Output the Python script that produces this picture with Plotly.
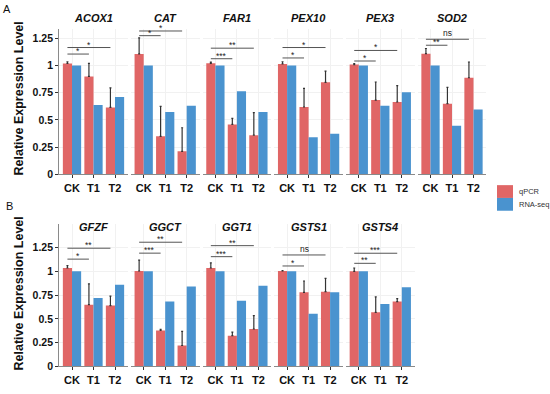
import plotly.graph_objects as go

W, H = 550, 394
FONT = "Liberation Sans"
RED = "#E06666"
BLUE = "#4A93CF"

categories = ["CK", "T1", "T2"]
y_ticks = [0, 0.25, 0.5, 0.75, 1, 1.25]
y_tick_labels = ["0", "0.25", "0.5", "0.75", "1", "1.25"]

# ---- Panel A ----
genes_a = ["ACOX1", "CAT", "FAR1", "PEX10", "PEX3", "SOD2"]
qpcr_a = [[1.02, 0.90, 0.615], [1.107, 0.349, 0.211], [1.021, 0.459, 0.36],
          [1.015, 0.619, 0.846], [1.009, 0.683, 0.665], [1.109, 0.65, 0.888]]
qpcr_err_a = [[0.015, 0.12, 0.18], [0.147, 0.275, 0.217], [0.01, 0.055, 0.208],
              [0.02, 0.171, 0.103], [0.01, 0.166, 0.151], [0.048, 0.15, 0.145]]
rnaseq_a = [[1.0, 0.637, 0.71], [1.0, 0.572, 0.63], [1.0, 0.764, 0.574],
            [1.0, 0.341, 0.372], [1.0, 0.631, 0.755], [1.0, 0.447, 0.595]]
sig_labels_a = [["*", "*"], ["*", "*"], ["***", "**"], ["*", "*"], ["*", "*"], ["**", "ns"]]
sig_heights_a = [[1.106, 1.166], [1.275, 1.318], [1.063, 1.16], [1.07, 1.166],
                 [1.042, 1.139], [1.187, 1.242]]

# ---- Panel B ----
genes_b = ["GFZF", "GGCT", "GGT1", "GSTS1", "GSTS4"]
qpcr_b = [[1.035, 0.649, 0.639], [1.003, 0.378, 0.219], [1.035, 0.323, 0.393],
          [1.003, 0.779, 0.786], [1.0, 0.568, 0.681]]
qpcr_err_b = [[0.024, 0.219, 0.10], [0.115, 0.011, 0.149], [0.053, 0.038, 0.14],
              [0.004, 0.119, 0.14], [0.035, 0.162, 0.031]]
rnaseq_b = [[1.0, 0.719, 0.858], [1.0, 0.681, 0.84], [1.0, 0.691, 0.849],
            [1.0, 0.554, 0.779], [1.0, 0.656, 0.832]]
sig_labels_b = [["*", "**"], ["***", "**"], ["***", "**"], ["*", "ns"], ["**", "***"]]
sig_heights_b = [[1.128, 1.243], [1.191, 1.306], [1.154, 1.27], [1.056, 1.172], [1.084, 1.19]]

series_names = ["qPCR", "RNA-seq"]

fig = go.Figure()
layout = {}
annotations = []
shapes = []

BARGAP = 0.15
HALF = (1 - BARGAP) / 4  # offset of each bar centre from category centre

def px_x(p):
    return p / W

def px_y(p):
    return 1 - p / H

rows = [
    dict(genes=genes_a, q=qpcr_a, qe=qpcr_err_a, r=rnaseq_a, sl=sig_labels_a, sh=sig_heights_a,
         ytop=29.6, ybot=177.0, ymax=1.335, title_y=18.5, tag="A", tag_xy=(7, 9), ytitle_y=100),
    dict(genes=genes_b, q=qpcr_b, qe=qpcr_err_b, r=rnaseq_b, sl=sig_labels_b, sh=sig_heights_b,
         ytop=227.25, ybot=372.0, ymax=1.5, title_y=230.5, tag="B", tag_xy=(9, 209), ytitle_y=298),
]

idx = 0
for row in rows:
    for i, gene in enumerate(row["genes"]):
        idx += 1
        xa = "x" if idx == 1 else f"x{idx}"
        ya = "y" if idx == 1 else f"y{idx}"
        x0 = 59.1 + 71.7 * i
        x1 = x0 + 68.8
        xpos = list(range(len(categories)))
        fig.add_trace(go.Bar(
            x=xpos, y=row["q"][i], name=series_names[0], marker_color=RED,
            marker_line_width=0, offsetgroup="q", xaxis=xa, yaxis=ya, showlegend=False,
            error_y=dict(type="data", symmetric=False, array=row["qe"][i],
                         arrayminus=[0] * 3, color="#333333", thickness=1.2, width=1),
        ))
        fig.add_trace(go.Bar(
            x=xpos, y=row["r"][i], name=series_names[1], marker_color=BLUE,
            marker_line_width=0, offsetgroup="r", xaxis=xa, yaxis=ya, showlegend=False,
        ))
        first = i == 0
        layout["xaxis" if idx == 1 else f"xaxis{idx}"] = dict(
            domain=[px_x(x0), px_x(x1)], range=[-0.6, 2.6], anchor=ya,
            tickvals=xpos, ticktext=[f"<b>{c}</b>" for c in categories],
            tickfont=dict(family=FONT, size=11, color="#111111"),
            ticks="outside", ticklen=3, tickwidth=1, tickcolor="#333333",
            showline=True, linecolor="#8a8a8a", linewidth=1,
            showgrid=True, gridcolor="#f1f1f1", gridwidth=0.8, zeroline=False, fixedrange=True,
        )
        layout["yaxis" if idx == 1 else f"yaxis{idx}"] = dict(
            domain=[px_y(row["ybot"]), px_y(row["ytop"])], range=[0, row["ymax"]], anchor=xa,
            tickvals=y_ticks, ticktext=[f"<b>{t}</b>" for t in y_tick_labels],
            showticklabels=first,
            tickfont=dict(family=FONT, size=10.5, color="#111111"),
            ticks="outside" if first else "", ticklen=3, tickwidth=1, tickcolor="#333333",
            showline=first, linecolor="#8a8a8a", linewidth=1,
            showgrid=True, gridcolor="#f1f1f1", gridwidth=0.8, zeroline=False, fixedrange=True,
        )
        # facet title
        annotations.append(dict(
            text=f"<b><i>{gene}</i></b>", x=px_x((x0 + x1) / 2), y=px_y(row["title_y"]),
            xref="paper", yref="paper", showarrow=False, xanchor="center", yanchor="middle",
            font=dict(family=FONT, size=11, color="#111111"),
        ))
        # significance brackets (from CK qPCR bar to T1 / T2 qPCR bar)
        for k, (lab, h) in enumerate(zip(row["sl"][i], row["sh"][i])):
            xs = 0 - HALF
            xe = (k + 1) - HALF
            shapes.append(dict(type="line", xref=xa, yref=ya, x0=xs, x1=xe, y0=h, y1=h,
                               line=dict(color="#555555", width=1)))
            annotations.append(dict(
                text=lab, x=(xs + xe) / 2, y=h, xref=xa, yref=ya, showarrow=False,
                xanchor="center", yanchor="bottom", yshift=-4 if lab != "ns" else -1,
                font=dict(family=FONT, size=8.5, color="#222222"),
            ))
    # panel tag
    annotations.append(dict(
        text=row["tag"], x=px_x(row["tag_xy"][0]), y=px_y(row["tag_xy"][1]),
        xref="paper", yref="paper", showarrow=False, xanchor="center", yanchor="middle",
        font=dict(family=FONT, size=11, color="#111111"),
    ))
    # y-axis title
    annotations.append(dict(
        text="<b>Relative Expression Level</b>", x=px_x(19), y=px_y(row["ytitle_y"]),
        xref="paper", yref="paper", showarrow=False, textangle=-90,
        xanchor="center", yanchor="middle",
        font=dict(family=FONT, size=12.5, color="#111111"),
    ))

# legend (manual keys)
for j, (name, col) in enumerate(zip(series_names, [RED, BLUE])):
    ty0 = 188 + 13 * j
    shapes.append(dict(type="rect", xref="paper", yref="paper",
                       x0=px_x(497), x1=px_x(513), y0=px_y(ty0 + 13), y1=px_y(ty0),
                       fillcolor=col, line=dict(width=0)))
    annotations.append(dict(
        text=name, x=px_x(517), y=px_y(ty0 + 6.5), xref="paper", yref="paper",
        showarrow=False, xanchor="left", yanchor="middle",
        font=dict(family=FONT, size=7.5, color="#333333"),
    ))

fig.update_layout(
    width=W, height=H, margin=dict(l=0, r=0, t=0, b=0),
    paper_bgcolor="white", plot_bgcolor="white",
    barmode="group", bargap=BARGAP, bargroupgap=0,
    showlegend=False, annotations=annotations, shapes=shapes,
    **layout,
)

fig.write_html("out.html", config={"displayModeBar": False},
               post_script="document.body.style.margin='0';document.body.style.overflow='hidden';")
